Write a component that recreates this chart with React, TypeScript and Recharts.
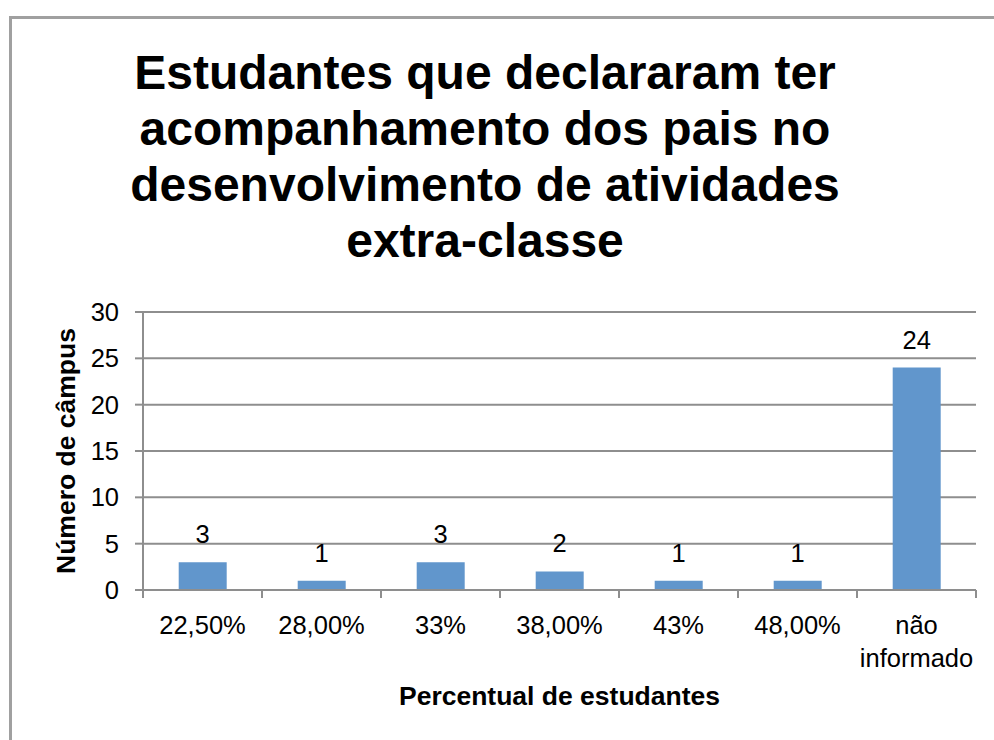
import React from "react";
import {
  BarChart,
  Bar,
  XAxis,
  YAxis,
  CartesianGrid,
  LabelList,
} from "recharts";

const categories = [
  "22,50%",
  "28,00%",
  "33%",
  "38,00%",
  "43%",
  "48,00%",
  "não informado",
];
const campusCounts = [3, 1, 3, 2, 1, 1, 24];
const yTicks = [0, 5, 10, 15, 20, 25, 30];
const titleLines = [
  "Estudantes que declararam ter",
  "acompanhamento dos pais no",
  "desenvolvimento de atividades",
  "extra-classe",
];

const W = 994;
const H = 740;
const PLOT_LEFT = 143;
const PLOT_RIGHT = 976;
const PLOT_TOP = 312;
const PLOT_BOTTOM = 590;
const BAND = (PLOT_RIGHT - PLOT_LEFT) / categories.length;
const FONT = "'Liberation Sans', Arial, Helvetica, sans-serif";
const GRID = "#8e8e8e";

const data = categories.map((c, i) => ({ name: c, value: campusCounts[i] }));

// Excel-style category axis: tick marks sit between categories
const XTick = (props: any) => {
  const { x, payload, index } = props;
  const half = payload && payload.offset ? payload.offset : BAND / 2;
  const words = String(payload.value).split(" ");
  return (
    <g>
      <line x1={x - half} x2={x - half} y1={PLOT_BOTTOM} y2={PLOT_BOTTOM + 8} stroke={GRID} strokeWidth={2} />
      {index === categories.length - 1 && (
        <line x1={x + half} x2={x + half} y1={PLOT_BOTTOM} y2={PLOT_BOTTOM + 8} stroke={GRID} strokeWidth={2} />
      )}
      <text x={x} y={634} textAnchor="middle" fontSize={25.5} fontFamily={FONT} fill="#000">
        {words.map((w, i) => (
          <tspan key={i} x={x} dy={i === 0 ? 0 : 33}>
            {w}
          </tspan>
        ))}
      </text>
    </g>
  );
};

export default function App() {
  return (
    <div
      style={{
        position: "absolute",
        left: 0,
        top: 0,
        width: W,
        height: H,
        overflow: "hidden",
        background: "#fff",
      }}
    >
      <div
        style={{
          position: "absolute",
          left: 9,
          top: 16,
          width: W - 9,
          height: H - 16,
          borderLeft: "3px solid #a0a0a0",
          borderTop: "3px solid #a0a0a0",
          boxSizing: "border-box",
        }}
      />
      <div
        style={{
          position: "absolute",
          left: 0,
          top: 45,
          width: 970,
          textAlign: "center",
          fontFamily: FONT,
          fontWeight: "bold",
          fontSize: 48,
          lineHeight: "56px",
          color: "#000",
        }}
      >
        {titleLines.map((l) => (
          <div key={l}>{l}</div>
        ))}
      </div>
      <div style={{ position: "absolute", left: 0, top: 0 }}>
        <BarChart
          width={W}
          height={H}
          data={data}
          margin={{ top: PLOT_TOP, right: W - PLOT_RIGHT, bottom: 0, left: 0 }}
          barCategoryGap="30%"
        >
          <CartesianGrid vertical={false} stroke={GRID} strokeWidth={2} />
          <XAxis
            dataKey="name"
            height={H - PLOT_BOTTOM}
            interval={0}
            axisLine={{ stroke: GRID, strokeWidth: 2 }}
            tickLine={false}
            tick={<XTick />}
            label={{
              value: "Percentual de estudantes",
              position: "insideTop",
              offset: 96,
              style: { fontFamily: FONT, fontWeight: "bold", fontSize: 26.5, fill: "#000" },
            }}
          />
          <YAxis
            width={PLOT_LEFT}
            domain={[0, 30]}
            ticks={yTicks}
            interval={0}
            axisLine={{ stroke: GRID, strokeWidth: 2 }}
            tickLine={{ stroke: GRID, strokeWidth: 2 }}
            tickSize={8}
            tickMargin={16}
            tick={{ fontSize: 25.5, fontFamily: FONT, fill: "#000" }}
            label={{
              value: "Número de câmpus",
              angle: -90,
              position: "center",
              dx: -6,
              style: { fontFamily: FONT, fontWeight: "bold", fontSize: 26.5, fill: "#000" },
            }}
          />
          <Bar dataKey="value" fill="#6196cc" isAnimationActive={false}>
            <LabelList
              dataKey="value"
              position="top"
              offset={19}
              style={{ fontSize: 25.5, fontFamily: FONT, fill: "#000" }}
            />
          </Bar>
        </BarChart>
      </div>
    </div>
  );
}
